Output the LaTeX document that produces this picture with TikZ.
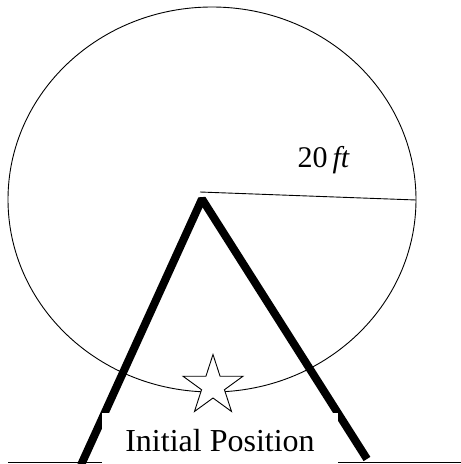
\documentclass[tikz,border=0pt]{standalone}
\usepackage{fontspec}
\setmainfont{Liberation Serif}
\usetikzlibrary{shapes.geometric}

\tikzset{
  wheel/.style={line width=0.9pt},
  spoke/.style={line width=0.9pt},
  leg/.style={line width=8pt,line join=bevel},
  ground/.style={line width=0.9pt},
  marker/.style={star,star points=5,star point ratio=2.618,minimum size=63pt,
                 inner sep=0pt,draw,line width=0.9pt,fill=white},
}

\begin{document}
\begin{tikzpicture}[x=1pt,y=1pt]
  \useasboundingbox (0,0) rectangle (461,464);
  % wheel and radius
  \coordinate (centre) at (212,264.5);
  \coordinate (hub) at (200,272);
  \coordinate (rim) at (416,264);
  \coordinate (apex) at (202,265);
  \draw[wheel] (centre) ellipse [x radius=204, y radius=192.5];
  \draw[spoke] (hub) -- (rim);
  \node[font=\fontsize{30}{32}\selectfont,anchor=base west] (radius) at (294,296) {20\,\textit{ft}};
  % support frame
  \coordinate (footL) at (81,-1);
  \coordinate (footR) at (367,5);
  \draw[leg] (footL) -- (apex) -- (footR);
  \node[marker] (start) at (213,78) {};
  \node[fill=white,minimum width=236pt,minimum height=51pt,text height=27pt,text depth=0pt,
        inner sep=0pt,font=\fontsize{32}{34}\selectfont] (initial) at (220,25.5) {Initial Position};
  % ground
  \coordinate (gL) at (8,2);
  \coordinate (gR) at (461,2);
  \draw[ground] (gL) -- (initial.west |- gL);
  \draw[ground] (initial.east |- gR) -- (gR);
\end{tikzpicture}
\end{document}
